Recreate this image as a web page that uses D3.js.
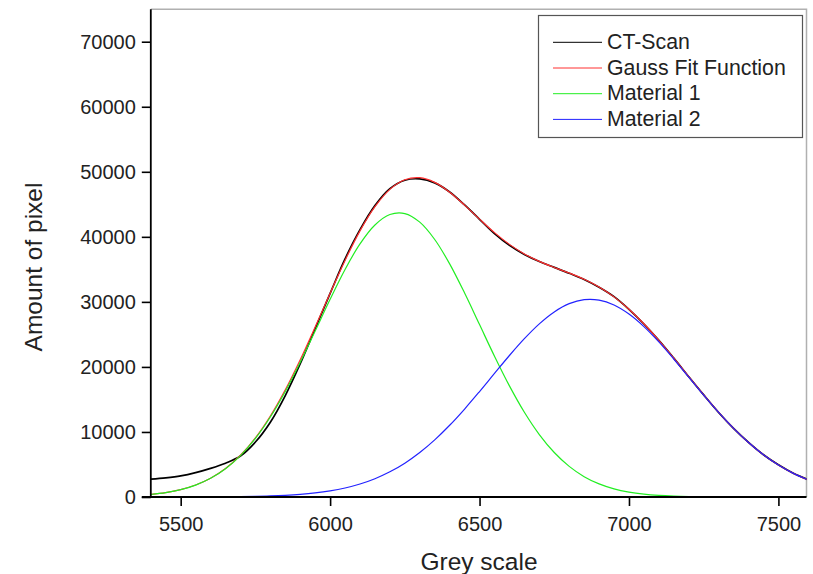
<!DOCTYPE html>
<html>
<head>
<meta charset="utf-8">
<script src="https://cdn.jsdelivr.net/npm/d3@7"></script>
<style>
  body { margin: 0; background: #fff; }
  text { font-family: "Liberation Sans", Arial, sans-serif; fill: #222; }
</style>
</head>
<body>
<div id="chart"></div>
<script>
// grey values sampled every 50 units
const grey = [5400,5450,5500,5550,5600,5650,5700,5750,5800,5850,5900,5950,6000,6050,6100,6150,6200,6250,6300,6350,6400,6450,6500,6550,6600,6650,6700,6750,6800,6850,6900,6950,7000,7050,7100,7150,7200,7250,7300,7350,7400,7450,7500,7550,7600]

const ctScan = [2750,2950,3250,3750,4400,5200,6300,8450,11500,15600,20500,25900,31300,36600,41100,44800,47400,48700,48900,48300,46900,44900,42700,40500,38700,37300,36200,35300,34400,33450,32250,30800,28850,26600,24100,21350,18500,15700,13000,10550,8400,6500,4950,3650,2650]

const gaussFit = [390,676,1136,1844,2890,4383,6419,9094,12455,16486,21109,26149,31343,36378,40917,44635,47302,48784,49098,48378,46869,44880,42720,40646,38841,37372,36226,35293,34432,33473,32287,30768,28877,26633,24087,21343,18507,15701,13026,10563,8376,6490,4915,3638,2632]

const material1 = [388,673,1130,1834,2872,4350,6362,8998,12297,16230,20705,25525,30402,34991,38919,41821,43431,43580,42258,39592,35843,31355,26505,21649,17087,13031,9605,6839,4707,3129,2012,1248,749,434,243,132,69,35,17,8,4,2,1,0,0]

const material2 = [2,3,6,10,18,33,57,96,158,256,404,624,941,1387,1998,2814,3871,5204,6840,8786,11026,13525,16215,18997,21754,24341,26621,28454,29725,30344,30275,29520,28128,26199,23844,21211,18438,15666,13009,10555,8372,6488,4914,3638,2632]

const xTicks = [5500,6000,6500,7000,7500]
const yTicks = [0,10000,20000,30000,40000,50000,60000,70000]

const series = [
  {name: "CT-Scan", values: ctScan, color: "#000000", w: 1.7},
  {name: "Gauss Fit Function", values: gaussFit, color: "#ff3030", w: 1.2},
  {name: "Material 1", values: material1, color: "#22ee22", w: 1.2},
  {name: "Material 2", values: material2, color: "#2222ff", w: 1.2}
]

const width = 813
const height = 574
const plotL = 150.8, plotR = 806.5, plotT = 9.2, plotB = 497

const svg = d3.select("#chart")
    .append("svg")
    .attr("width", width)
    .attr("height", height)

const x = d3.scaleLinear().domain([5400, 7594]).range([plotL, plotR])
const y = d3.scaleLinear().domain([0, 75000]).range([plotB, plotT])

svg.append("clipPath").attr("id", "clip")
    .append("rect")
    .attr("x", plotL).attr("y", plotT)
    .attr("width", plotR - plotL).attr("height", plotB - plotT)

// grey frame on top and right
svg.append("path")
    .attr("d", `M${plotL},${plotT}H${plotR}V${plotB}`)
    .attr("fill", "none")
    .attr("stroke", "#b0b0b0")
    .attr("stroke-width", 1.5)

const line = (vals) => d3.line()
    .x((d, i) => x(grey[i]))
    .y(d => y(d))
    .curve(d3.curveCatmullRom.alpha(0.5))(vals)

const plot = svg.append("g").attr("clip-path", "url(#clip)")
series.forEach(s => {
    plot.append("path")
        .attr("d", line(s.values))
        .attr("fill", "none")
        .attr("stroke", s.color)
        .attr("stroke-width", s.w)
})

// axes
const xAxis = svg.append("g").attr("transform", `translate(0,${plotB})`)
xAxis.call(d3.axisBottom(x).tickValues([5750,6250,6750,7250]).tickSize(5).tickFormat(""))
xAxis.call(d3.axisBottom(x).tickValues(xTicks).tickSize(9).tickPadding(11).tickFormat(d3.format("d")))
xAxis.selectAll(".domain").remove()
xAxis.append("line").attr("x1", plotL - 9).attr("x2", plotR).attr("stroke", "#000").attr("stroke-width", 1.8)

const yAxis = svg.append("g").attr("transform", `translate(${plotL},0)`)
yAxis.call(d3.axisLeft(y).tickValues([5000,15000,25000,35000,45000,55000,65000,75000]).tickSize(5).tickFormat(""))
yAxis.call(d3.axisLeft(y).tickValues(yTicks).tickSize(9).tickPadding(6).tickFormat(d3.format("d")))
yAxis.selectAll(".domain").remove()
yAxis.append("line").attr("y1", plotT).attr("y2", plotB).attr("stroke", "#000").attr("stroke-width", 1.8)

svg.selectAll(".tick line").attr("stroke", "#000").attr("stroke-width", 1.6)
svg.selectAll(".tick text")
    .style("font-size", "20px")
    .style("font-family", "'Liberation Sans', Arial, sans-serif")
    .attr("fill", "#222")

// axis titles
svg.append("text")
    .attr("x", 479).attr("y", 570)
    .attr("text-anchor", "middle")
    .style("font-size", "24.5px")
    .text("Grey scale")

svg.append("text")
    .attr("transform", "translate(42,267) rotate(-90)")
    .attr("text-anchor", "middle")
    .style("font-size", "24.5px")
    .text("Amount of pixel")

// legend
const legend = svg.append("g")
legend.append("rect")
    .attr("x", 538.5).attr("y", 15.5)
    .attr("width", 264).attr("height", 122)
    .attr("fill", "#fff")
    .attr("stroke", "#555")
    .attr("stroke-width", 1.2)

const rows = legend.selectAll("g.row")
    .data(series)
    .join("g")
    .attr("transform", (d, i) => `translate(0,${42.3 + i * 25.7})`)

rows.append("line")
    .attr("x1", 553).attr("x2", 602)
    .attr("stroke", d => d.color)
    .attr("stroke-width", 1)

rows.append("text")
    .attr("x", 607).attr("y", 6.5)
    .style("font-size", "21.3px")
    .text(d => d.name)
</script>
</body>
</html>
